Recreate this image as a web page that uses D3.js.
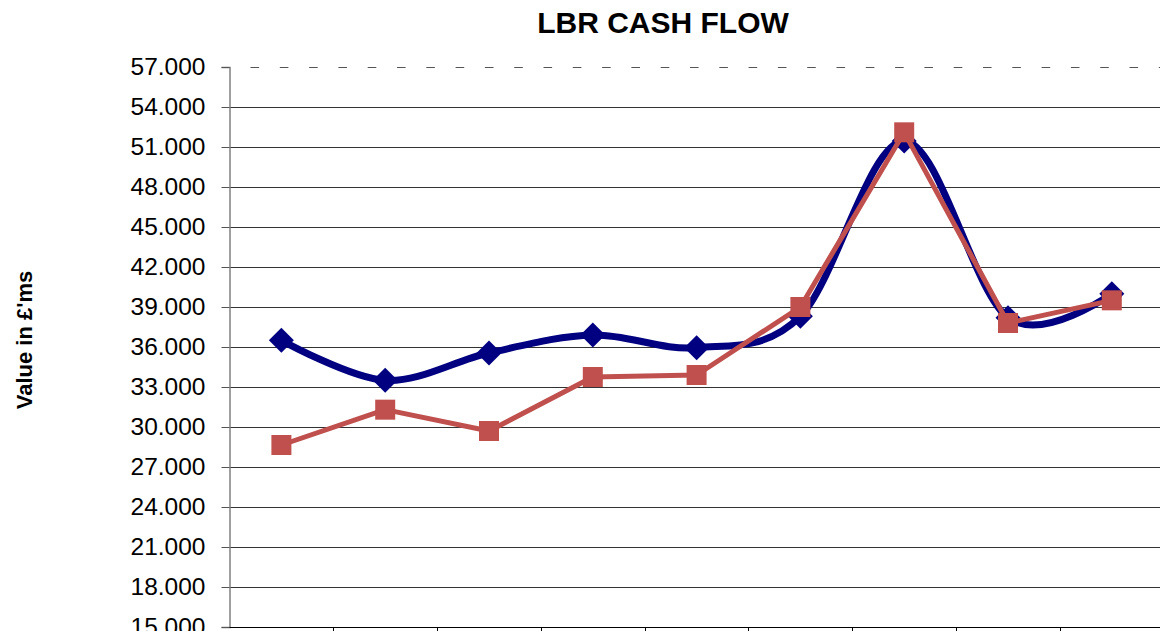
<!DOCTYPE html>
<html>
<head>
<meta charset="utf-8">
<script src="https://cdn.jsdelivr.net/npm/d3@7"></script>
<style>
  html, body { margin: 0; padding: 0; background: #fff; overflow: hidden; }
  svg { display: block; font-family: Arial, "Liberation Sans", sans-serif; }
</style>
</head>
<body>
<div id="chart"></div>
<script>
// categories along the x axis (their labels are outside the visible area)
const categories = ['P1', 'P2', 'P3', 'P4', 'P5', 'P6', 'P7', 'P8', 'P9'];
// blue smoothed series (diamonds), values in £'ms
const seriesBlue = [36.5, 33.5, 35.55, 36.9, 35.95, 38.3, 51.45, 38.2, 40.0];
// red straight series (squares)
const seriesRed = [28.65, 31.3, 29.7, 33.75, 33.9, 39.0, 52.1, 37.8, 39.5];
// y tick values
const yTicks = [15, 18, 21, 24, 27, 30, 33, 36, 39, 42, 45, 48, 51, 54, 57];

const config = {
  width: 1160,
  height: 631,
  margin: {top: 67, left: 229.5, bottom: 4},
  bandWidth: 103.8
};

const svg = d3.select('#chart').append('svg')
    .attr('width', config.width)
    .attr('height', config.height);

const x = d3.scaleBand()
    .domain(categories)
    .range([config.margin.left, config.margin.left + config.bandWidth * categories.length]);

const y = d3.scaleLinear()
    .domain([15, 57])
    .range([config.height - config.margin.bottom, config.margin.top]);

const fmt = d3.format('.3f');

// gridlines (top one dashed)
svg.append('g')
  .selectAll('line')
  .data(yTicks.filter(d => d > 15))
  .join('line')
    .attr('x1', d => d === 57 ? config.margin.left + 21 : config.margin.left)
    .attr('x2', config.width)
    .attr('y1', d => Math.round(y(d)) + 0.5)
    .attr('y2', d => Math.round(y(d)) + 0.5)
    .attr('stroke', d => d === 57 ? '#555' : '#333')
    .attr('stroke-width', 1)
    .attr('stroke-dasharray', d => d === 57 ? '8.6,20.7' : null);

// y axis
const yAxis = svg.append('g')
    .attr('transform', `translate(${config.margin.left},0)`)
    .call(d3.axisLeft(y).tickValues(yTicks).tickFormat(fmt).tickSize(8).tickPadding(16));
yAxis.select('.domain').attr('stroke', '#808080').attr('stroke-width', 1.5);
yAxis.selectAll('.tick line').attr('stroke', '#555');
yAxis.selectAll('.tick text')
    .attr('font-size', 24.5)
    .attr('fill', '#000')
    .attr('font-family', 'Arial, "Liberation Sans", sans-serif');

// x axis with ticks at band boundaries
const xAxisG = svg.append('g')
    .attr('transform', `translate(0,${Math.round(y(15)) + 0.5})`);
xAxisG.append('line')
    .attr('x1', config.margin.left)
    .attr('x2', config.width)
    .attr('stroke', '#000');
xAxisG.selectAll('.xtick')
  .data(categories)
  .join('line')
    .attr('class', 'xtick')
    .attr('x1', d => Math.round(x(d) + x.bandwidth()) + 0.5)
    .attr('x2', d => Math.round(x(d) + x.bandwidth()) + 0.5)
    .attr('y1', 0)
    .attr('y2', 8)
    .attr('stroke', '#000');

const cx = (d, i) => x(categories[i]) + x.bandwidth() / 2;

// blue smoothed line
svg.append('path')
    .datum(seriesBlue)
    .attr('fill', 'none')
    .attr('stroke', '#000080')
    .attr('stroke-width', 7)
    .attr('stroke-linejoin', 'round')
    .attr('d', d3.line().x(cx).y(d => y(d)).curve(d3.curveCatmullRom.alpha(0)));

svg.append('g')
  .selectAll('path')
  .data(seriesBlue)
  .join('path')
    .attr('fill', '#000080')
    .attr('transform', (d, i) => `translate(${cx(d, i)},${y(d)})`)
    .attr('d', 'M0,-12.5L12.5,0L0,12.5L-12.5,0Z');

// red straight line
svg.append('path')
    .datum(seriesRed)
    .attr('fill', 'none')
    .attr('stroke', '#C0504D')
    .attr('stroke-width', 5)
    .attr('stroke-linejoin', 'round')
    .attr('d', d3.line().x(cx).y(d => y(d)));

svg.append('g')
  .selectAll('rect')
  .data(seriesRed)
  .join('rect')
    .attr('fill', '#C0504D')
    .attr('x', (d, i) => cx(d, i) - 10)
    .attr('y', d => y(d) - 10)
    .attr('width', 20)
    .attr('height', 20);

// title
svg.append('text')
    .attr('x', 663)
    .attr('y', 33)
    .attr('text-anchor', 'middle')
    .attr('font-size', 30)
    .attr('font-weight', 'bold')
    .text('LBR CASH FLOW');

// y axis label
svg.append('text')
    .attr('transform', 'translate(32,340) rotate(-90)')
    .attr('text-anchor', 'middle')
    .attr('font-size', 22)
    .attr('font-weight', 'bold')
    .text("Value in £'ms");
</script>
</body>
</html>
